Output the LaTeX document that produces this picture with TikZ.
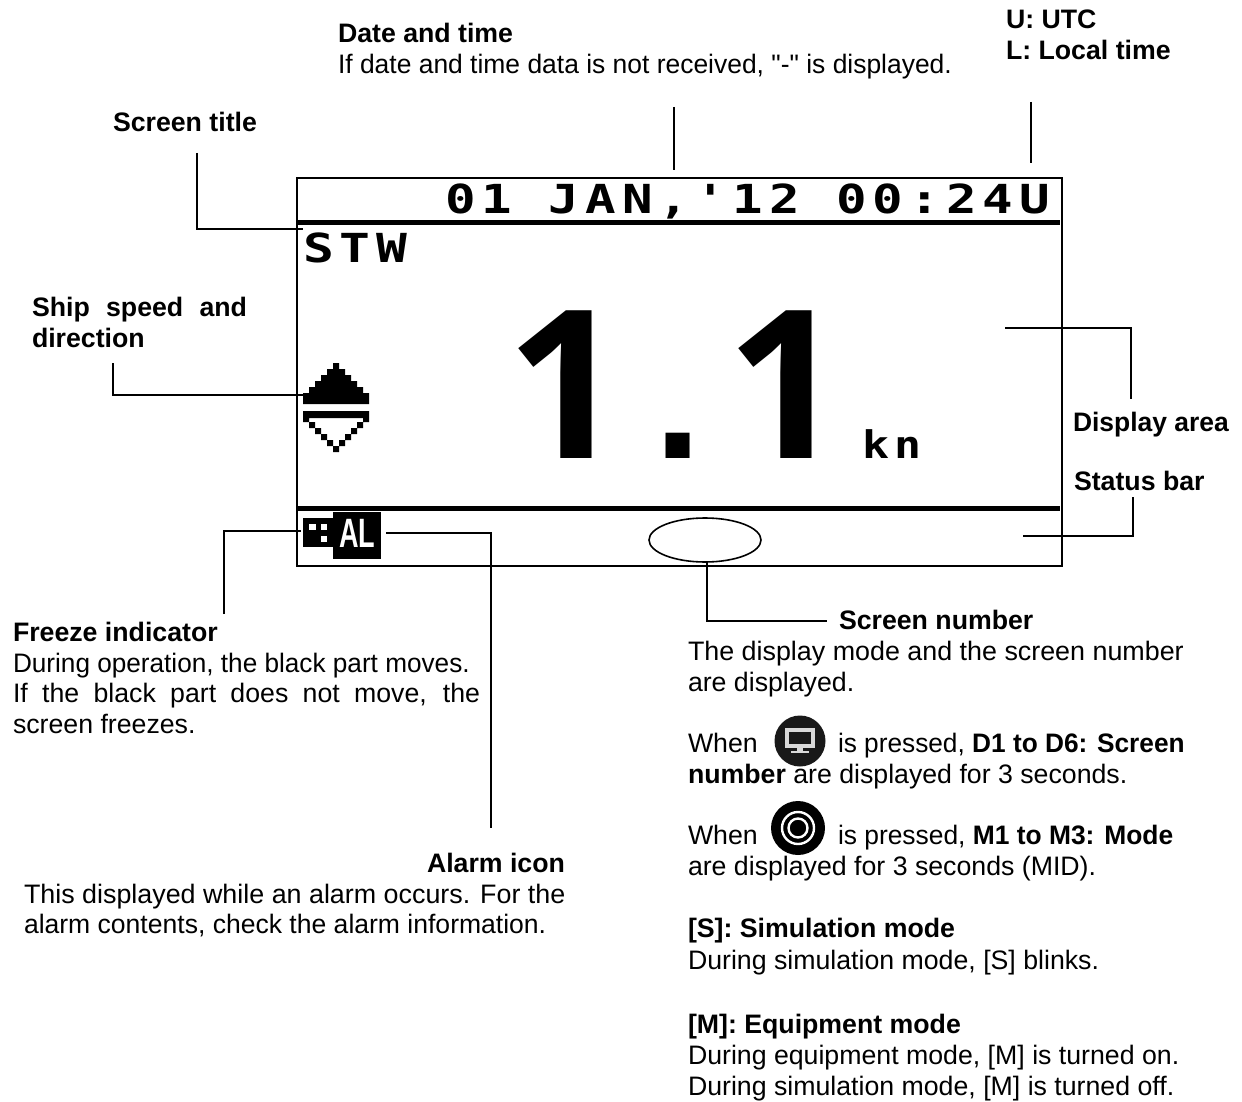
\documentclass[tikz,border=0pt]{standalone}
\usepackage{fontspec}
\usepackage{graphicx}
\setmainfont{Liberation Sans}
\newfontfamily\lcdfont[LetterSpace=12]{DejaVu Sans Mono}
\newfontfamily\quotefont{Liberation Sans}
\newfontfamily\bigfont{Open Sans}
\newcommand{\tl}[4]{\node[lbl] (#1) at (#2,#3) {#4};}
\tikzset{
  lbl/.style={anchor=base west,inner sep=0pt,outer sep=0pt,font=\fontsize{26.7}{31}\selectfont},
  lcd/.style={anchor=base west,inner sep=0pt,outer sep=0pt},
  conn/.style={draw=black,line width=1.6pt},
  frameline/.style={draw=black,line width=2pt},
  thick bar/.style={draw=black,line width=5pt},
}
\begin{document}
\begin{tikzpicture}[x=1pt,y=-1pt]
\useasboundingbox (0,0) rectangle (1242,1102);
% screen frame
\node[draw=black,line width=2pt,inner sep=0pt,minimum width=765pt,minimum height=387.5pt,anchor=north west] (screen) at (295.7,177) {};
\coordinate (barAL) at (296,222.5);
\coordinate (barAR) at (1060,222.5);
\coordinate (barBL) at (296,508);
\coordinate (barBR) at (1060,508);
\draw[thick bar] (barAL) -- (barAR);
\draw[thick bar] (barBL) -- (barBR);
% display texts
\node[lcd] (dtxt) at (445,214) {\scalebox{1.27}[1]{\fontsize{40}{40}\selectfont\lcdfont\bfseries 01 JAN,'12 00:24U}};
\node[lcd] (stw) at (303,262) {\scalebox{1.28}[1]{\fontsize{40}{40}\selectfont\lcdfont\bfseries STW}};
\node[lcd] (speed) at (506,458) {\bfseries{\fontsize{207}{207}\selectfont\bigfont 1}\kern30pt{\fontsize{170}{170}\selectfont .}\kern25pt{\fontsize{207}{207}\selectfont\bigfont 1}};
\node[lcd] (unit) at (862,458) {\scalebox{1.18}[1]{\fontsize{38}{38}\selectfont\lcdfont\bfseries kn}};
% direction arrows
\fill[black] (333,363) -- (339,363) -- (339,369) -- (345,369) -- (345,375) -- (351,375) -- (351,381) -- (357,381) -- (357,387) -- (363,387) -- (363,393) -- (369,393) -- (369,404) -- (303,404) -- (303,393) -- (309,393) -- (309,387) -- (315,387) -- (315,381) -- (321,381) -- (321,375) -- (327,375) -- (327,369) -- (333,369) -- cycle;
\fill[black,even odd rule] (303,411) -- (369,411) -- (369,422) -- (363,422) -- (363,428) -- (357,428) -- (357,434) -- (351,434) -- (351,440) -- (345,440) -- (345,446) -- (339,446) -- (339,452) -- (333,452) -- (333,446) -- (327,446) -- (327,440) -- (321,440) -- (321,434) -- (315,434) -- (315,428) -- (309,428) -- (309,422) -- (303,422) -- cycle
 (309,418) -- (363,418) -- (363,422) -- (357,422) -- (357,428) -- (351,428) -- (351,434) -- (345,434) -- (345,440) -- (339,440) -- (339,446) -- (333,446) -- (333,440) -- (327,440) -- (327,434) -- (321,434) -- (321,428) -- (315,428) -- (315,422) -- (309,422) -- cycle;
% freeze indicator and alarm icon
\fill[black] (303,518) rectangle (334,547);
\fill[white] (309,524) rectangle (316,530);
\fill[white] (321,524) rectangle (327,530);
\fill[white] (321,536) rectangle (327,542);
\node[fill=black,inner sep=0pt,minimum width=48pt,minimum height=47pt,anchor=north west] (albox) at (333,512) {};
\node[lcd,text=white] (al) at (339,547) {\scalebox{0.66}[1]{\fontsize{41}{41}\selectfont\bfseries AL}};
% screen number ellipse
\draw[frameline,line width=1.6pt] (705,540) ellipse [x radius=56,y radius=22];
\coordinate (ellB) at (707,562);
% labels
\tl{date1}{338}{43}{\textbf{Date and time}}
\tl{date2}{338}{74}{\scalebox{0.99}[1]{If date and time data is not received, {\quotefont"-"} is displayed.}}
\tl{u1}{1006}{29}{\textbf{U: UTC}}
\tl{u2}{1006}{60}{\textbf{L: Local time}}
\tl{title}{113}{132}{\textbf{Screen title}}
\tl{ship1}{32}{316}{\makebox[215pt][s]{\textbf{Ship speed and}}}
\tl{ship2}{32}{347}{\textbf{direction}}
\tl{disp}{1073}{431}{\scalebox{0.99}[1]{\textbf{Display area}}}
\tl{stat}{1074}{490}{\textbf{Status bar}}
\tl{fr1}{13}{641}{\textbf{Freeze indicator}}
\tl{fr2}{13}{672}{\scalebox{0.98}[1]{During operation, the black part moves.}}
\tl{fr3}{13}{702}{\makebox[467pt][s]{If the black part does not move, the}}
\tl{fr4}{13}{733}{screen freezes.}
\tl{alm1}{427}{872}{\textbf{Alarm icon}}
\tl{alm2}{24}{903}{\scalebox{1.006}[1]{This displayed while an alarm occurs. For the}}
\tl{alm3}{24}{933}{\scalebox{0.994}[1]{alarm contents, check the alarm information.}}
\tl{sn1}{839}{629}{\textbf{Screen number}}
\tl{sn2}{688}{660}{\scalebox{1.006}[1]{The display mode and the screen number}}
\tl{sn3}{688}{691}{are displayed.}
\tl{w1a}{688}{752}{When}
\tl{w1b}{838}{752}{\scalebox{0.983}[1]{is pressed, \textbf{D1 to D6: Screen}}}
\tl{w1c}{688}{783}{\textbf{number} are displayed for 3 seconds.}
\tl{w2a}{688}{844}{When}
\tl{w2b}{838}{844}{\scalebox{0.988}[1]{is pressed, \textbf{M1 to M3: Mode}}}
\tl{w2c}{688}{875}{are displayed for 3 seconds (MID).}
\tl{sim1}{688}{937}{\textbf{[S]: Simulation mode}}
\tl{sim2}{688}{969}{During simulation mode, [S] blinks.}
\tl{eq1}{688}{1033}{\textbf{[M]: Equipment mode}}
\tl{eq2}{688}{1064}{During equipment mode, [M] is turned on.}
\tl{eq3}{688}{1095}{During simulation mode, [M] is turned off.}
% monitor button icon
\fill[black!90] (800,741) circle [radius=25.5];
\fill[white!85!black] (785,728) rectangle (815,748);
\fill[black!90] (789,732) rectangle (811,744);
\fill[white!85!black] (797,748) rectangle (803,751);
\fill[white!85!black] (791,751) rectangle (809,753);
% target button icon
\fill[black] (798,828) circle [radius=27];
\draw[white,line width=2.4pt] (798,828) circle [radius=16];
\draw[white,line width=2.4pt] (798,828) circle [radius=9.5];
% connectors
\coordinate (c1a) at (674,107); \coordinate (c1b) at (674,170);
\draw[conn] (c1a) -- (c1b);
\coordinate (c2a) at (1031,102); \coordinate (c2b) at (1031,163);
\draw[conn] (c2a) -- (c2b);
\coordinate (c3a) at (197,153); \coordinate (c3b) at (303,229);
\draw[conn] (c3a) |- (c3b);
\coordinate (c4a) at (113,363); \coordinate (c4b) at (303,395);
\draw[conn] (c4a) |- (c4b);
\coordinate (c5a) at (1005,328); \coordinate (c5b) at (1131,399);
\draw[conn] (c5a) -| (c5b);
\coordinate (c6a) at (1023,536); \coordinate (c6b) at (1133,497);
\draw[conn] (c6a) -| (c6b);
\coordinate (c7a) at (224,614); \coordinate (c7b) at (301,531);
\draw[conn] (c7a) |- (c7b);
\coordinate (c8a) at (386,533); \coordinate (c8b) at (491,828);
\draw[conn] (c8a) -| (c8b);
\coordinate (c9b) at (827,621);
\draw[conn] (ellB) |- (c9b);
\end{tikzpicture}
\end{document}
